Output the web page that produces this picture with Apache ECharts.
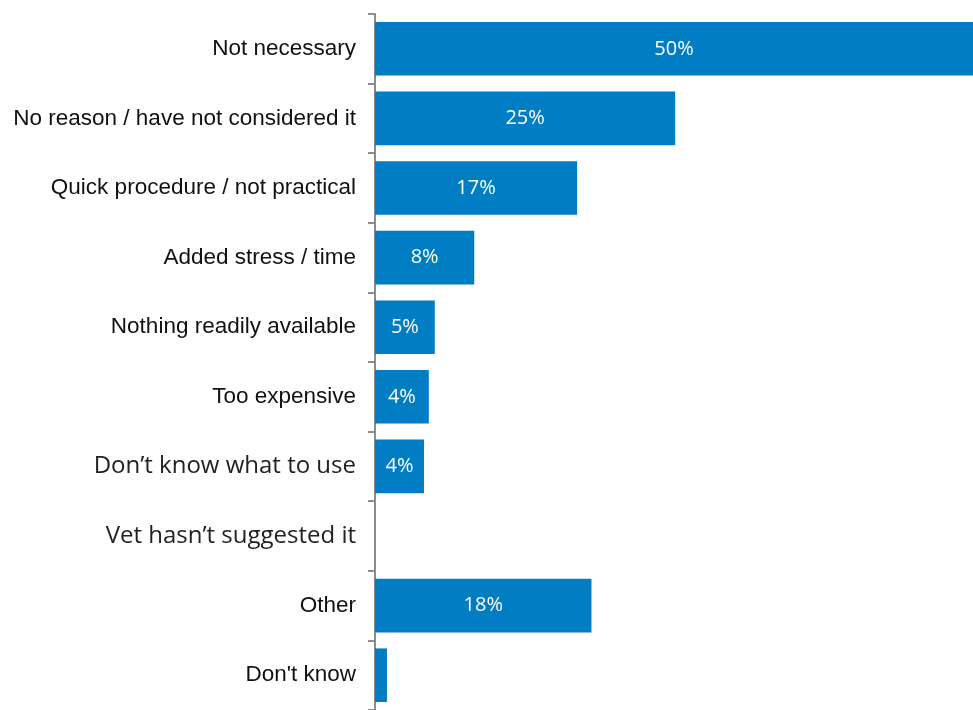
<!DOCTYPE html>
<html><head><meta charset="utf-8">
<script src="https://cdn.jsdelivr.net/npm/echarts@6/dist/echarts.min.js"></script>
<style>html,body{margin:0;padding:0;background:#fff}#c{width:973px;height:710px}</style>
</head><body><div id="c"></div>
<script>
const categories = ["Not necessary","No reason / have not considered it","Quick procedure / not practical","Added stress / time","Nothing readily available","Too expensive","Don\u2019t know what to use","Vet hasn\u2019t suggested it","Other","Don't know"];
const values = [50, 25.1, 16.9, 8.3, 5.0, 4.5, 4.1, 0, 18.1, 1.0];
const valueLabels = ["50%","25%","17%","8%","5%","4%","4%","","18%",""];
const altFontCats = ["Don\u2019t know what to use","Vet hasn\u2019t suggested it"];

const chart = echarts.init(document.getElementById('c'));
chart.setOption({
  animation:false,
  grid:{left:375,right:0,top:14,height:700},
  xAxis:{type:'value',min:0,max:50,show:false},
  yAxis:{type:'category',inverse:true,data:categories,
    axisLine:{show:true,lineStyle:{color:'#8c8c8c',width:2}},
    axisTick:{show:true,inside:false,length:7,lineStyle:{color:'#8c8c8c',width:2}},
    axisLabel:{margin:19,
      formatter:v=> altFontCats.includes(v) ? '{b|'+v+'}' : '{a|'+v+'}',
      rich:{
        a:{fontFamily:'Liberation Sans, Arial',fontSize:22.5,color:'#111'},
        b:{fontFamily:'Open Sans',fontSize:24,color:'#222'}
      }}
  },
  series:[{type:'bar',data:values,barCategoryGap:'23%',
    itemStyle:{color:'#007DC3'},
    label:{show:true,position:'inside',color:'#fff',fontFamily:'Open Sans',fontSize:20,
      formatter:p=>valueLabels[p.dataIndex]}
  }]
});
</script></body></html>
